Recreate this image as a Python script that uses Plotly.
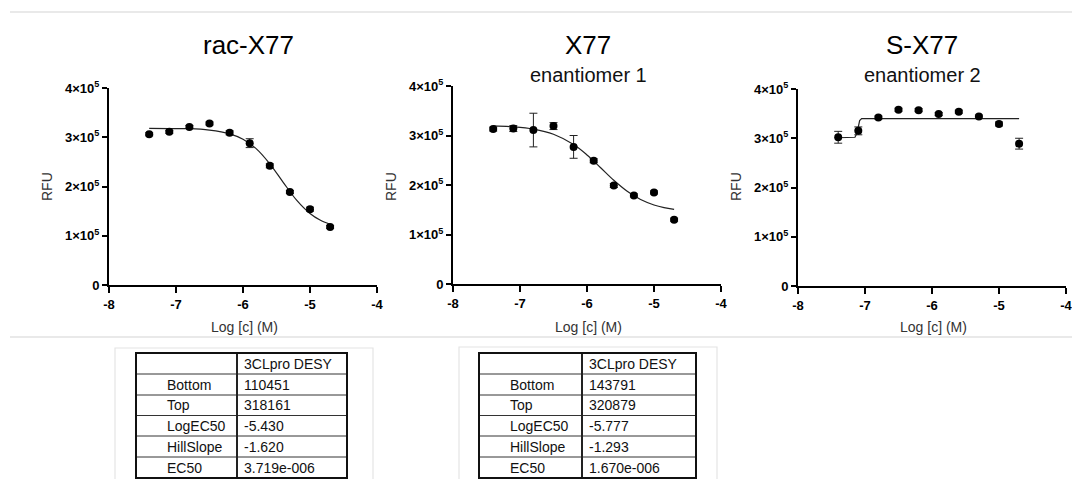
import plotly.graph_objects as go

# page body keeps its default 8px margin, so the figure fills the window minus 8px on each side
OFF = 8
W, H = 1080 - 2 * OFF, 487 - 2 * OFF

# ---------------- data ----------------
log_c = [-7.4, -7.1, -6.8, -6.5, -6.2, -5.9, -5.6, -5.3, -5.0, -4.7]

rac_y = [306000, 311000, 321000, 328000, 309000, 288000, 242000, 189000, 154000, 118000]
rac_err = [3000, 3000, 3000, 3000, 4000, 9000, 4000, 3000, 4000, 3000]
rac_fit_x = [-7.4, -7.1, -6.8, -6.5, -6.2, -6.0, -5.8, -5.6, -5.4, -5.2, -5.0, -4.85, -4.7]
rac_fit_y = [318000, 317700, 317400, 314400, 307000, 296100, 276400, 246100, 208500, 172300, 145200, 131800, 123300]

e1_y = [313000, 314000, 311000, 319000, 277000, 249000, 199000, 179000, 185000, 130000]
e1_err = [4000, 6000, 34000, 7000, 23000, 4000, 4000, 3000, 3000, 3000]
e1_fit_x = [-7.4, -7.1, -6.8, -6.5, -6.2, -6.0, -5.8, -5.6, -5.4, -5.2, -5.0, -4.85, -4.7]
e1_fit_y = [319500, 317500, 312900, 302500, 281700, 260700, 235400, 209500, 187300, 170700, 159700, 154300, 150700]

e2_y = [302000, 315000, 342000, 358000, 357000, 349000, 354000, 344000, 329000, 289000]
e2_err = [12000, 8000, 3000, 3000, 3000, 3000, 3000, 3000, 4000, 11000]
e2_fit_x = [-7.4, -7.2, -7.15, -7.12, -7.1, -7.08, -7.05, -6.8, -6.0, -5.0, -4.7]
e2_fit_y = [301000, 301000, 302000, 310000, 325000, 336000, 340000, 340000, 340000, 340000, 340000]

y_tick_vals = [0, 100000, 200000, 300000, 400000]
y_tick_text = ["0", "1×10<sup>5</sup>", "2×10<sup>5</sup>", "3×10<sup>5</sup>", "4×10<sup>5</sup>"]
x_tick_vals = [-8, -7, -6, -5, -4]
x_tick_text = ["-8", "-7", "-6", "-5", "-4"]

titles = ["rac-X77", "X77", "S-X77"]
subtitles = ["", "enantiomer 1", "enantiomer 2"]

table_header = ["", "3CLpro DESY"]
table_params = ["Bottom", "Top", "LogEC50", "HillSlope", "EC50"]
table1_vals = ["110451", "318161", "-5.430", "-1.620", "3.719e-006"]
table2_vals = ["143791", "320879", "-5.777", "-1.293", "1.670e-006"]

# ---------------- layout geometry (window pixels) ----------------
panels = [
    dict(x0=109, x1=377, y0=285, y1=88, tx=248),
    dict(x0=453, x1=721, y0=284, y1=86, tx=588),
    dict(x0=798, x1=1066, y0=286, y1=89, tx=922),
]

def px(x):
    return (x - OFF) / W

def py(y):
    return 1 - (y - OFF) / H

fig = go.Figure()
series = [(rac_y, rac_err, rac_fit_x, rac_fit_y, "spline"),
          (e1_y, e1_err, e1_fit_x, e1_fit_y, "spline"),
          (e2_y, e2_err, e2_fit_x, e2_fit_y, "linear")]

FONT = "Liberation Sans, Arial, sans-serif"
layout_axes = {}
annotations = []
shapes = []

for i, (p, (ys, errs, fx, fy, shp)) in enumerate(zip(panels, series)):
    n = i + 1
    xa = "x" if n == 1 else f"x{n}"
    ya = "y" if n == 1 else f"y{n}"
    fig.add_trace(go.Scatter(x=fx, y=fy, mode="lines", line=dict(color="#222", width=1.2, shape=shp),
                             xaxis=xa, yaxis=ya, showlegend=False, hoverinfo="skip"))
    fig.add_trace(go.Scatter(x=log_c, y=ys, mode="markers",
                             marker=dict(color="black", size=8),
                             error_y=dict(type="data", array=errs, color="#222", thickness=1, width=4),
                             xaxis=xa, yaxis=ya, showlegend=False))
    xk = "xaxis" if n == 1 else f"xaxis{n}"
    yk = "yaxis" if n == 1 else f"yaxis{n}"
    layout_axes[xk] = dict(domain=[px(p["x0"]), px(p["x1"])], range=[-8, -4], anchor=ya,
                           tickvals=x_tick_vals, ticktext=x_tick_text, automargin=False,
                           ticklabeloverflow="allow",
                           showline=True, linecolor="black", linewidth=2,
                           ticks="outside", ticklen=6, tickwidth=2, tickcolor="black",
                           showgrid=False, zeroline=False,
                           tickfont=dict(family=FONT, size=13, color="black", weight="bold"))
    layout_axes[yk] = dict(domain=[py(p["y0"]), py(p["y1"])], range=[0, 400000], anchor=xa,
                           tickvals=y_tick_vals, ticktext=y_tick_text, automargin=False,
                           showline=True, linecolor="black", linewidth=2,
                           ticks="outside", ticklen=5, tickwidth=2, tickcolor="black",
                           showgrid=False, zeroline=False,
                           tickfont=dict(family=FONT, size=13, color="black", weight="bold"))
    annotations.append(dict(text="Log [c] (M)", xref="paper", yref="paper",
                            x=px(p["x0"] + 135), y=py(327),
                            xanchor="center", yanchor="middle", showarrow=False,
                            font=dict(family=FONT, size=14, color="#333")))
    annotations.append(dict(text="RFU", xref="paper", yref="paper",
                            x=px(p["x0"] - 62), y=py(187), textangle=-90,
                            xanchor="center", yanchor="middle", showarrow=False,
                            font=dict(family=FONT, size=14, color="#333")))
    annotations.append(dict(text=titles[i], xref="paper", yref="paper",
                            x=px(p["tx"]), y=py(45), xanchor="center", yanchor="middle",
                            showarrow=False, font=dict(family=FONT, size=26, color="black")))
    if subtitles[i]:
        annotations.append(dict(text=subtitles[i], xref="paper", yref="paper",
                                x=px(p["tx"]), y=py(75), xanchor="center", yanchor="middle",
                                showarrow=False, font=dict(family=FONT, size=20, color="#111")))

# separator lines
for yy in (12, 337):
    shapes.append(dict(type="line", xref="paper", yref="paper", x0=px(10), x1=1.01, y0=py(yy), y1=py(yy),
                       line=dict(color="#e2e2e2", width=1.5)))

# tables
tables = [
    dict(fx0=115, fx1=373, fy=348, x0=136, xm=237, x1=347, vals=table1_vals),
    dict(fx0=459, fx1=717, fy=347, x0=479, xm=582, x1=696, vals=table2_vals),
]
top, bot = 353, 478
row_edges = [353, 374, 395, 415.5, 436, 457, 478]
for t in tables:
    shapes.append(dict(type="rect", xref="paper", yref="paper", x0=px(t["fx0"]), x1=px(t["fx1"]),
                       y0=py(t["fy"]), y1=-0.05, line=dict(color="#e4e4e4", width=1.2)))
    for e in row_edges[1:-1]:
        shapes.append(dict(type="line", xref="paper", yref="paper", x0=px(t["x0"]), x1=px(t["x1"]),
                           y0=py(e), y1=py(e), line=dict(color="#333", width=1)))
    shapes.append(dict(type="line", xref="paper", yref="paper", x0=px(t["xm"]), x1=px(t["xm"]),
                       y0=py(top), y1=py(bot), line=dict(color="#222", width=2)))
    shapes.append(dict(type="rect", xref="paper", yref="paper", x0=px(t["x0"]), x1=px(t["x1"]),
                       y0=py(top), y1=py(bot), line=dict(color="#111", width=2)))
    rows = [table_header] + [[a, b] for a, b in zip(table_params, t["vals"])]
    for r, (c1, c2) in enumerate(rows):
        yc = (row_edges[r] + row_edges[r + 1]) / 2
        if c1:
            annotations.append(dict(text=c1, xref="paper", yref="paper", x=px(t["x0"] + 29), y=py(yc),
                                    xanchor="left", yanchor="middle", showarrow=False,
                                    font=dict(family=FONT, size=14, color="#111")))
        annotations.append(dict(text=c2, xref="paper", yref="paper", x=px(t["xm"] + 5), y=py(yc),
                                xanchor="left", yanchor="middle", showarrow=False,
                                font=dict(family=FONT, size=14, color="#111")))

fig.update_layout(width=W, height=H, margin=dict(l=0, r=0, t=0, b=0, autoexpand=False),
                  paper_bgcolor="white", plot_bgcolor="white",
                  annotations=annotations, shapes=shapes, **layout_axes)

fig.write_html("out.html", config={"displayModeBar": False})
